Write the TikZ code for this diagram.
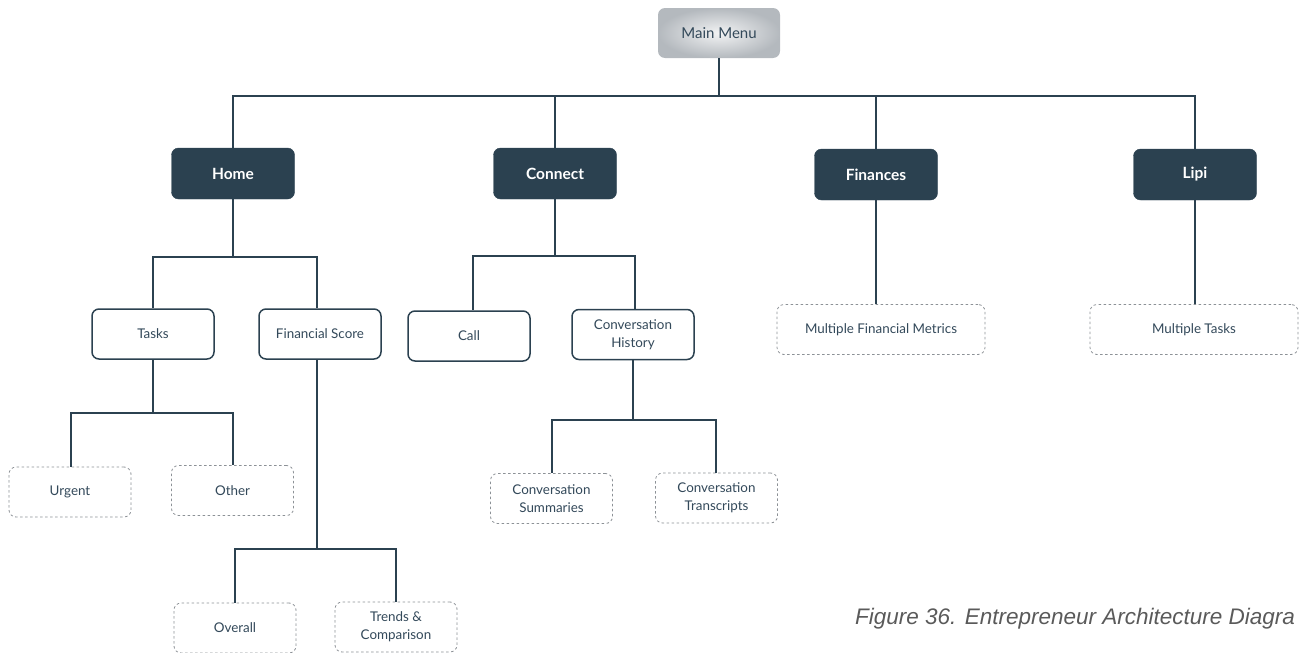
\documentclass[tikz,border=0pt]{standalone}
\usepackage{fontspec}
\setmainfont{Lato}
\newfontfamily\capfont{Liberation Sans}
\definecolor{slate}{HTML}{2B4150}
\definecolor{ink}{HTML}{33495A}
\definecolor{dashgray}{HTML}{8C9196}
\definecolor{silverin}{HTML}{F2F3F4}
\definecolor{silverout}{HTML}{B4B9BE}
\definecolor{capgray}{HTML}{5A5A5A}
\tikzset{
  every node/.style={font=\fontsize{13.4}{18}\selectfont, text=ink, align=center},
  menubox/.style={rounded corners=7pt, minimum width=122pt, minimum height=50pt,
    inner color=silverin, outer color=silverout, font=\fontsize{15}{18}\selectfont},
  topbox/.style={rounded corners=7pt, minimum width=123pt, minimum height=51pt,
    fill=slate, draw=slate, text=white, font=\fontsize{15.5}{18}\selectfont\bfseries},
  subbox/.style={rounded corners=7pt, minimum width=122pt, minimum height=50pt,
    draw=slate, line width=1.5pt, fill=white},
  leafbox/.style={rounded corners=7pt, minimum width=122pt, minimum height=50pt,
    draw=dashgray, line width=0.8pt, dash pattern=on 2.5pt off 2.5pt, fill=white},
  wide/.style={minimum width=208pt},
  link/.style={draw=slate, line width=1.6pt},
}
\begin{document}
\begin{tikzpicture}[x=1pt, y=-1pt]
  \useasboundingbox (0,0) rectangle (1299,653);

  % top level
  \node[menubox] (main) at (719,33) {Main Menu};
  \node[topbox] (home) at (233,173.5) {Home};
  \node[topbox] (connect) at (555,173.5) {Connect};
  \node[topbox] (finances) at (876,174.5) {Finances};
  \node[topbox] (lipi) at (1195,174.5) {Lipi};

  % second level
  \node[subbox] (tasks) at (153,334) {Tasks};
  \node[subbox] (fscore) at (320,334) {Financial Score};
  \node[subbox] (call) at (469,336) {Call};
  \node[subbox] (convhist) at (633,334.5) {Conversation\\History};
  \node[leafbox, wide] (metrics) at (881,329.5) {Multiple Financial Metrics};
  \node[leafbox, wide] (multitasks) at (1194,329.5) {Multiple Tasks};

  % third level
  \node[leafbox] (urgent) at (70,492) {Urgent};
  \node[leafbox] (other) at (232.5,490.5) {Other};
  \node[leafbox] (overall) at (235,628) {Overall};
  \node[leafbox] (trends) at (396,627) {Trends \&\\Comparison};
  \node[leafbox] (summaries) at (551.5,498.5) {Conversation\\Summaries};
  \node[leafbox] (transcripts) at (716.5,498) {Conversation\\Transcripts};

  % connectors
  \coordinate (bus) at (719,96);
  \draw[link] (main.south) -- (bus);
  \draw[link] (bus) -| (home.north);
  \draw[link] (bus) -| (connect.north);
  \draw[link] (bus) -| (finances.north);
  \draw[link] (bus) -| (lipi.north);

  \coordinate (homebus) at (233,257);
  \draw[link] (home.south) -- (homebus);
  \draw[link] (homebus) -| (tasks.north);
  \draw[link] (homebus) -| ([xshift=-3pt]fscore.north);

  \coordinate (taskbus) at (153,413);
  \draw[link] (tasks.south) -- (taskbus);
  \draw[link] (taskbus) -| ([xshift=1pt]urgent.north);
  \draw[link] (taskbus) -| ([xshift=0.5pt]other.north);

  \coordinate (fsbus) at (317,549);
  \draw[link] ([xshift=-3pt]fscore.south) -- (fsbus);
  \draw[link] (fsbus) -| (overall.north);
  \draw[link] (fsbus) -| (trends.north);

  \coordinate (connbus) at (555,256);
  \draw[link] (connect.south) -- (connbus);
  \draw[link] (connbus) -| ([xshift=4pt]call.north);
  \draw[link] (connbus) -| ([xshift=2pt]convhist.north);

  \coordinate (histbus) at (633,420);
  \draw[link] (convhist.south) -- (histbus);
  \draw[link] (histbus) -| ([xshift=0.5pt]summaries.north);
  \draw[link] (histbus) -| ([xshift=-0.5pt]transcripts.north);

  \draw[link] (finances.south) -- (finances.south |- metrics.north);
  \draw[link] (lipi.south) -- (lipi.south |- multitasks.north);

  % caption
  \node[anchor=base west, text=capgray, font=\capfont\itshape\fontsize{22.5}{26}\selectfont, align=left, inner sep=0pt]
    (caption) at (855,624) {Figure 36. Entrepreneur Architecture Diagra};
\end{tikzpicture}
\end{document}
